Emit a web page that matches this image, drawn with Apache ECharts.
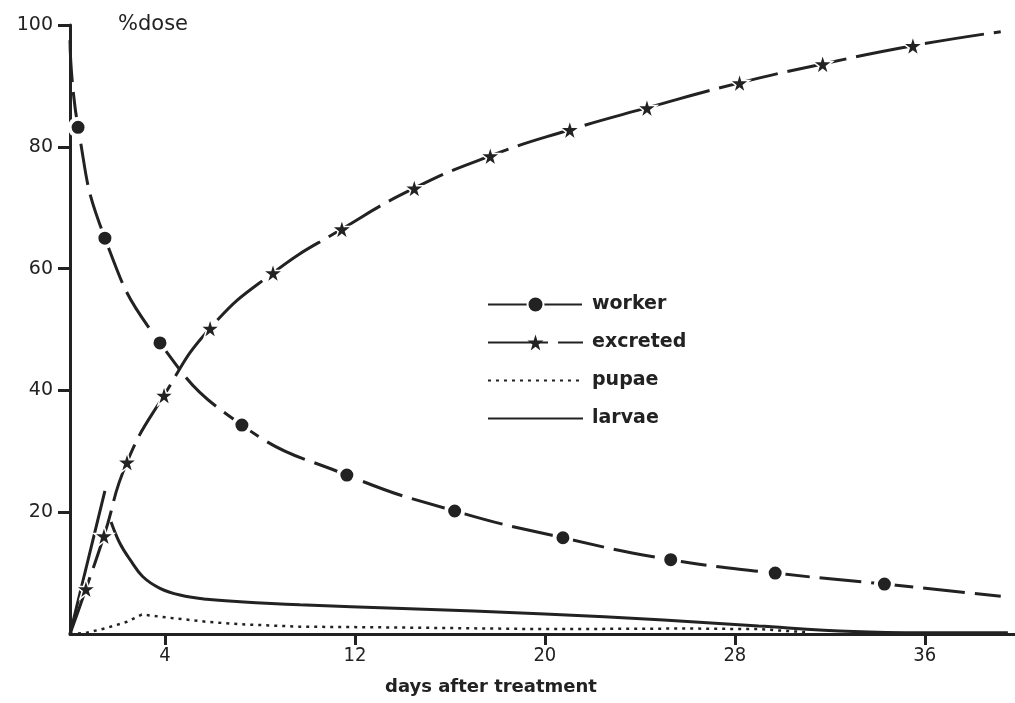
<!DOCTYPE html>
<html>
<head>
<meta charset="utf-8">
<script src="https://cdn.jsdelivr.net/npm/echarts@6/dist/echarts.min.js"></script>
<style>
html,body{margin:0;padding:0;background:#fff;}
#chart{width:1015px;height:703px;}
</style>
</head>
<body>
<div id="chart"></div>
<script>
// ---- data ----
const xTicks = [4, 12, 20, 28, 36];
const yTicks = [20, 40, 60, 80, 100];

const workerDays = [0, 0.34, 1.47, 3.79, 7.24, 11.66, 16.2, 20.76, 25.3, 29.7, 34.3, 39.2];
const workerPct  = [97.5, 83.2, 65.0, 47.8, 34.3, 26.1, 20.2, 15.8, 12.2, 10.0, 8.2, 6.2];
const workerMarked = [false, true, true, true, true, true, true, true, true, true, true, false];

const excretedDays = [0, 0.67, 1.43, 2.4, 3.96, 5.9, 8.55, 11.45, 14.5, 17.7, 21.05, 24.3, 28.2, 31.7, 35.5, 39.2];
const excretedPct  = [0, 7.4, 16.1, 28.2, 39.2, 50.2, 59.3, 66.5, 73.2, 78.5, 82.8, 86.4, 90.5, 93.6, 96.6, 98.9];
const excretedMarked = [false, true, true, true, true, true, true, true, true, true, true, true, true, true, true, false];

const pupaeDays = [0, 0.7, 1.55, 2.4, 3.02, 4.34, 5.77, 7.16, 9.68, 13, 20, 26, 29, 31];
const pupaePct  = [0, 0.2, 1.0, 2.0, 3.2, 2.6, 2.0, 1.6, 1.2, 1.1, 0.8, 0.9, 0.8, 0.3];

const larvaeDays = [0, 1.47, 1.6, 1.73, 2.1, 2.53, 3.07, 3.79, 4.63, 5.77, 7.16, 9.68, 14, 20, 25, 29, 33, 36, 39.5];
const larvaePct  = [0, 23.5, '-', 18.4, 14.9, 12.2, 9.4, 7.5, 6.4, 5.7, 5.3, 4.8, 4.2, 3.3, 2.3, 1.3, 0.4, 0.2, 0.2];

const seriesNames = ['worker', 'excreted', 'pupae', 'larvae'];
const yTitle = '%dose';
const xTitle = 'days after treatment';

// ---- build ----
const INK = '#222222';
const STAR = 'path://M50,0 L61,35 L98,35 L68,57 L79,92 L50,71 L21,92 L32,57 L2,35 L39,35 Z';
function marked(days, vals, flags) {
  return days.map((d, i) => flags[i] ? [d, vals[i]] : {value: [d, vals[i]], symbol: 'none'});
}
function pairs(days, vals) { return days.map((d, i) => [d, vals[i]]); }

const chart = echarts.init(document.getElementById('chart'), null, {renderer: 'canvas'});
const font = "'DejaVu Sans', sans-serif";
chart.setOption({
  animation: false,
  backgroundColor: '#ffffff',
  grid: {left: 70, right: 0, top: 25, bottom: 69},
  xAxis: {
    type: 'value', min: 0, max: 39.8,
    axisLine: {show: true, lineStyle: {color: INK, width: 3}},
    axisTick: {show: true, length: 11, inside: false, customValues: xTicks, lineStyle: {color: INK, width: 3}},
    axisLabel: {customValues: xTicks, color: INK, fontSize: 20, margin: 12,
      fontFamily: "'Liberation Sans Narrow', 'DejaVu Sans Condensed', sans-serif"},
    splitLine: {show: false}
  },
  yAxis: {
    type: 'value', min: 0, max: 100,
    axisLine: {show: true, lineStyle: {color: INK, width: 3}},
    axisTick: {show: true, length: 12, customValues: yTicks, lineStyle: {color: INK, width: 3}},
    axisLabel: {customValues: yTicks, color: INK, fontSize: 19, margin: 17, fontFamily: font},
    splitLine: {show: false}
  },
  legend: {
    data: [
      {name: 'worker'},
      {name: 'excreted', itemStyle: {borderWidth: 0}},
      {name: 'pupae', itemStyle: {opacity: 0}},
      {name: 'larvae', itemStyle: {opacity: 0}}
    ],
    orient: 'vertical',
    left: 482, top: 290,
    itemWidth: 95, itemHeight: 20, itemGap: 19,
    textStyle: {color: INK, fontSize: 19, fontFamily: font, fontWeight: 'bold', padding: [0, 0, 0, 4]}
  },
  graphic: [
    {type: 'text', left: 118, top: 14, style: {text: yTitle, fill: INK, font: "21px 'DejaVu Sans', sans-serif"}},
    {type: 'text', left: 385, top: 678, style: {text: xTitle, fill: INK, font: "bold 18px 'DejaVu Sans', sans-serif"}}
  ],
  series: [
    {
      name: 'worker', type: 'line', smooth: 0.5,
      symbol: 'circle', symbolSize: 17,
      itemStyle: {color: INK, borderColor: '#fff', borderWidth: 4},
      lineStyle: {color: INK, width: 3, type: [42, 10]},
      data: marked(workerDays, workerPct, workerMarked), z: 3
    },
    {
      name: 'excreted', type: 'line', smooth: 0.5,
      symbol: STAR, symbolSize: 20,
      itemStyle: {color: INK, borderColor: '#fff', borderWidth: 1.5},
      lineStyle: {color: INK, width: 3, type: [60, 10]},
      data: marked(excretedDays, excretedPct, excretedMarked), z: 4
    },
    {
      name: 'pupae', type: 'line', smooth: false, symbol: 'none',
      itemStyle: {color: INK},
      lineStyle: {color: INK, width: 2.5, type: [3, 5]},
      data: pairs(pupaeDays, pupaePct), z: 2
    },
    {
      name: 'larvae', type: 'line', smooth: 0.4, symbol: 'none',
      connectNulls: false,
      itemStyle: {color: INK},
      lineStyle: {color: INK, width: 3},
      data: pairs(larvaeDays, larvaePct), z: 2
    }
  ]
});
</script>
</body>
</html>
